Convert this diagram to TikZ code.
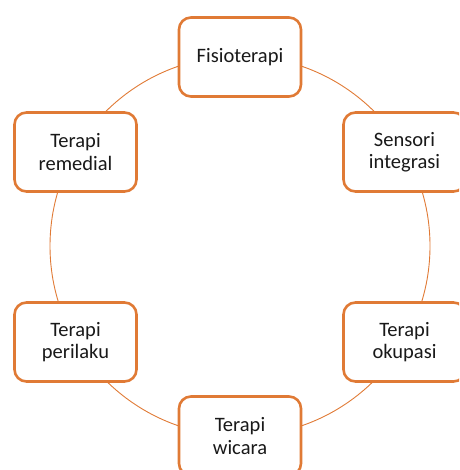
\documentclass[tikz,border=0pt]{standalone}
\usepackage{fontspec}
\setmainfont{Carlito}
\definecolor{orng}{HTML}{E07A35}
\begin{document}
\begin{tikzpicture}[x=1pt,y=-1pt,
  box/.style={draw=orng, line width=2.6pt, fill=white, rounded corners=12pt,
    minimum width=122pt, minimum height=79pt, align=center, inner sep=0pt,
    font=\fontsize{20.5}{22.5}\selectfont, text=black!90},
  ring/.style={draw=orng, line width=0.9pt}]
\useasboundingbox (0,0) rectangle (459,470);
\clip (0,0) rectangle (459,470);
\coordinate (c) at (240,246);
\draw[ring] (c) circle[radius=190pt];
\node[box] (fisio) at (240,57) {Fisioterapi};
\node[box] (sensori) at (404.5,152) {Sensori\\integrasi};
\node[box] (okupasi) at (404.5,342) {Terapi\\okupasi};
\node[box] (wicara) at (240,436) {Terapi\\wicara};
\node[box] (perilaku) at (75.5,342) {Terapi\\perilaku};
\node[box] (remedial) at (75.5,152) {Terapi\\remedial};
\end{tikzpicture}
\end{document}
